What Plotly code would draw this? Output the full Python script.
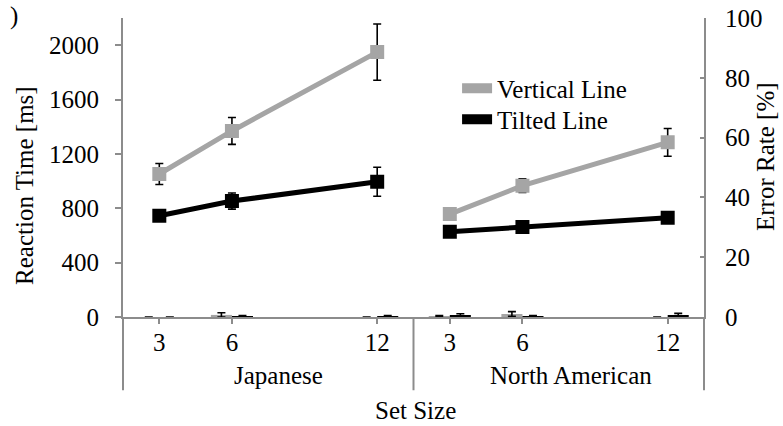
import plotly.graph_objects as go

# Set sizes shown for each group
set_sizes = [3, 6, 12]
groups = ["Japanese", "North American"]

# Reaction time (ms), mean and error, per group
rt_vertical_jp = [1052, 1369, 1949]
rt_vertical_jp_err = [77, 99, 207]
rt_tilted_jp = [745, 853, 995]
rt_tilted_jp_err = [20, 59, 107]

rt_vertical_na = [757, 966, 1285]
rt_vertical_na_err = [20, 50, 102]
rt_tilted_na = [627, 663, 730]
rt_tilted_na_err = [15, 18, 25]

# Error rate (%), mean and error, per group (None = no error bar)
er_vertical_jp = [0.0, 0.7, 0.0]
er_vertical_jp_err = [None, 0.7, None]
er_tilted_jp = [0.0, 0.3, 0.3]
er_tilted_jp_err = [None, 0.2, 0.2]

er_vertical_na = [0.3, 1.0, 0.0]
er_vertical_na_err = [0.2, 0.8, None]
er_tilted_na = [0.5, 0.3, 0.5]
er_tilted_na_err = [0.6, 0.2, 0.7]

y_left_ticks = [0, 400, 800, 1200, 1600, 2000]
y_right_ticks = [0, 20, 40, 60, 80, 100]

GRAY = "#A5A5A5"
BLACK = "#000000"
AXIS = "#8C8C8C"
FONT = "Times New Roman, Liberation Serif, DejaVu Serif, serif"
FS = 25

fig = go.Figure()


def err(values):
    return dict(type="data", array=values, color=BLACK, thickness=1.6, width=4)


# Error-rate bars on the secondary axis
for xa, v, ve, t, te in [
    ("x", er_vertical_jp, er_vertical_jp_err, er_tilted_jp, er_tilted_jp_err),
    ("x2", er_vertical_na, er_vertical_na_err, er_tilted_na, er_tilted_na_err),
]:
    fig.add_trace(go.Bar(x=set_sizes, y=v, error_y=err(ve), marker_color=GRAY,
                         marker_line_width=0, xaxis=xa, yaxis="y2",
                         showlegend=False))
    fig.add_trace(go.Bar(x=set_sizes, y=t, error_y=err(te), marker_color=BLACK,
                         marker_line_width=0, xaxis=xa, yaxis="y2",
                         showlegend=False))

# Reaction-time lines on the primary axis
for xa, series in [
    ("x", [(rt_vertical_jp, rt_vertical_jp_err, GRAY), (rt_tilted_jp, rt_tilted_jp_err, BLACK)]),
    ("x2", [(rt_vertical_na, rt_vertical_na_err, GRAY), (rt_tilted_na, rt_tilted_na_err, BLACK)]),
]:
    for vals, errs, col in series:
        fig.add_trace(go.Scatter(
            x=set_sizes, y=vals, mode="lines+markers", xaxis=xa, yaxis="y",
            line=dict(color=col, width=5),
            marker=dict(symbol="square", size=14, color=col),
            error_y=err(errs), showlegend=False))

# Legend entries, one legend box each so the row spacing can be set
for name, col, lg in [("Vertical Line", GRAY, "legend"), ("Tilted Line", BLACK, "legend2")]:
    fig.add_trace(go.Scatter(x=[None], y=[None], mode="lines", name=name,
                             line=dict(color=col, width=10), xaxis="x", yaxis="y",
                             legend=lg))

xaxis_style = dict(
    range=[1.5, 13.5], tickvals=set_sizes, ticks="outside", ticklen=5,
    tickwidth=2, tickcolor=AXIS, showline=True, linecolor=AXIS, linewidth=2,
    showgrid=False, zeroline=False, anchor="y", automargin=False,
    tickfont=dict(family=FONT, size=FS, color=BLACK), ticklabelstandoff=-3,
)

legend_style = dict(x=0.575, xanchor="left", yanchor="top",
                    bgcolor="rgba(0,0,0,0)", font=dict(family=FONT, size=FS))

fig.update_layout(
    width=783, height=426,
    margin=dict(l=123, r=79, t=18, b=109, autoexpand=False),
    paper_bgcolor="white", plot_bgcolor="white",
    font=dict(family=FONT, size=FS, color=BLACK),
    barmode="group", bargap=0.42, bargroupgap=0,
    xaxis=dict(domain=[0, 0.5], **xaxis_style),
    xaxis2=dict(domain=[0.5, 1], **xaxis_style),
    yaxis=dict(range=[0, 2200], tickvals=y_left_ticks, ticks="outside",
               ticklen=6, tickwidth=2, tickcolor=AXIS, showline=True,
               linecolor=AXIS, linewidth=2, showgrid=False, zeroline=False,
               anchor="x", ticklabelstandoff=11, automargin=False,
               tickfont=dict(family=FONT, size=FS, color=BLACK)),
    yaxis2=dict(range=[0, 100], tickvals=y_right_ticks, ticks="inside",
                ticklen=4, tickwidth=2, tickcolor=AXIS, showline=True,
                linecolor=AXIS, linewidth=2, showgrid=False, zeroline=False,
                overlaying="y", side="right", anchor="x2",
                ticklabelstandoff=14, automargin=False,
                tickfont=dict(family=FONT, size=FS, color=BLACK)),
    legend=dict(y=0.8415, **legend_style),
    legend2=dict(y=0.7378, **legend_style),
    showlegend=True,
)

# Group separators below the category axis
for xp in [0, 0.5, 1]:
    fig.add_shape(type="line", xref="paper", yref="paper", x0=xp, x1=xp,
                  y0=0, y1=-0.245, line=dict(color=AXIS, width=2))

annotations = [
    dict(text="Reaction Time [ms]", x=-0.1687, y=0.4415, textangle=-90),
    dict(text="Error Rate [%]", x=1.1067, y=0.5385, textangle=-90),
    dict(text=groups[0], x=0.2685, y=-0.197),
    dict(text=groups[1], x=0.771, y=-0.197),
    dict(text="Set Size", x=0.504, y=-0.314),
    dict(text=")", x=-0.1876, y=1.06, yanchor="top"),
]
for a in annotations:
    a.setdefault("yanchor", "middle")
    fig.add_annotation(xref="paper", yref="paper", showarrow=False,
                       xanchor="center",
                       font=dict(family=FONT, size=FS, color=BLACK), **a)

fig.write_html("out.html")
